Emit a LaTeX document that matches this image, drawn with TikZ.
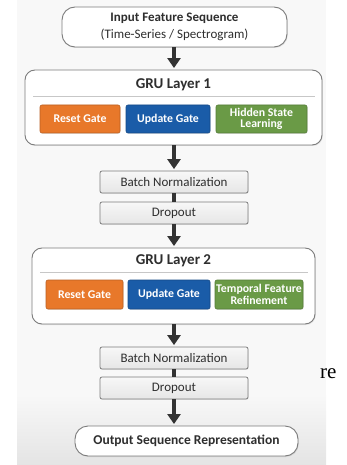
\documentclass[tikz,border=0pt]{standalone}
\usepackage{fontspec}
\setmainfont{Carlito}
\newfontfamily\refont{Liberation Serif}
\usetikzlibrary{arrows.meta,shadows}
\definecolor{panel}{HTML}{F8F8F8}
\definecolor{panelb}{HTML}{E4E4E4}
\definecolor{edge}{HTML}{7C7C7C}
\definecolor{ink}{HTML}{2E2E2E}
\definecolor{arrowc}{HTML}{333333}
\definecolor{gorange}{HTML}{E8782A}
\definecolor{gblue}{HTML}{1A5CA8}
\definecolor{ggreen}{HTML}{6A9A46}
\definecolor{stepfill}{HTML}{E6E6E6}
\begin{document}
\begin{tikzpicture}[x=1pt,y=-1pt,
  bigbox/.style={draw=edge, line width=0.9pt, fill=white, rounded corners=13pt, align=center, text=ink, inner sep=0pt,
     drop shadow={opacity=0.18, shadow xshift=0.8pt, shadow yshift=-1pt}},
  layerbox/.style={draw=edge, line width=0.9pt, fill=white, rounded corners=10pt, inner sep=0pt,
     drop shadow={opacity=0.18, shadow xshift=0.8pt, shadow yshift=-1pt}},
  title/.style={font=\fontsize{15}{16}\selectfont\bfseries, text=ink},
  gate/.style={rounded corners=2pt, text=white, align=center, inner sep=0pt, minimum height=28pt,
     font=\fontsize{11.8}{11.5}\selectfont\bfseries, line width=0.6pt,
     drop shadow={opacity=0.2, shadow xshift=0.6pt, shadow yshift=-0.8pt}},
  stepbox/.style={draw=edge, line width=0.8pt, top color=white!97!black, bottom color=stepfill, rounded corners=2pt,
     minimum width=148pt, minimum height=22pt, inner sep=0pt, text=ink, font=\fontsize{13}{13}\selectfont,
     drop shadow={opacity=0.15, shadow xshift=0.6pt, shadow yshift=-0.8pt}},
  arr/.style={draw=arrowc, line width=3.5pt, -{Triangle[width=13pt,length=10pt]}, shorten >=1.5pt},
  link/.style={draw=arrowc, line width=3.5pt},
  sep/.style={draw=black!22, line width=0.8pt}
]
\useasboundingbox (0,0) rectangle (346,465);
\fill[panel] (17,0) rectangle (326,465);
\shade[top color=panel, bottom color=panelb] (17,395) rectangle (326,465);

% input
\node[bigbox, minimum width=225pt, minimum height=40pt, font=\fontsize{13}{17}\selectfont] (in) at (174.5,27)
  {\textbf{Input Feature Sequence}\\(Time-Series / Spectrogram)};

% layer 1
\node[layerbox, minimum width=297pt, minimum height=75pt] (l1) at (173.5,107.5) {};
\node[title] (t1) at (173.5,85) {GRU Layer 1};
\coordinate (s1a) at (33,96);
\coordinate (s1b) at (315,96);
\draw[sep] (s1a) -- (s1b);
\node[gate, fill=gorange, draw=gorange!80!black, minimum width=80pt] (r1) at (80,119) {Reset Gate};
\node[gate, fill=gblue, draw=gblue!80!black, minimum width=84pt] (u1) at (168,119) {Update Gate};
\node[gate, fill=ggreen, draw=ggreen!80!black, minimum width=91pt] (h1) at (261.5,119) {Hidden State\\Learning};

% bn / dropout 1
\node[stepbox] (bn1) at (174,182) {Batch Normalization};
\node[stepbox] (do1) at (174,213) {Dropout};

% layer 2
\node[layerbox, minimum width=283pt, minimum height=76pt] (l2) at (173.5,286) {};
\node[title] (t2) at (173.5,261) {GRU Layer 2};
\coordinate (s2a) at (40,272);
\coordinate (s2b) at (308,272);
\draw[sep] (s2a) -- (s2b);
\node[gate, fill=gorange, draw=gorange!80!black, minimum width=77pt, minimum height=29pt] (r2) at (84.5,294.5) {Reset Gate};
\node[gate, fill=gblue, draw=gblue!80!black, minimum width=82pt, minimum height=29pt] (u2) at (169,294.5) {Update Gate};
\node[gate, fill=ggreen, draw=ggreen!80!black, minimum width=88pt, minimum height=29pt] (h2) at (259,294.5) {Temporal Feature\\Refinement};

% bn / dropout 2
\node[stepbox] (bn2) at (174,358) {Batch Normalization};
\node[stepbox] (do2) at (174,388) {Dropout};

% output
\node[bigbox, minimum width=223pt, minimum height=30pt, font=\fontsize{13.5}{14}\selectfont\bfseries] (out) at (186.5,441) {Output Sequence Representation};

% stray text
\node[anchor=base west, inner sep=0pt, font=\refont\fontsize{21}{21}\selectfont] (re) at (320,378) {re};

% connectors
\draw[arr] (in.south -| 174,0) -- (l1.north -| 174,0);
\draw[arr] (l1.south -| 174,0) -- (bn1.north);
\draw[link] (bn1.south) -- (do1.north);
\draw[arr] (do1.south) -- (l2.north -| 174,0);
\draw[arr] (l2.south -| 174,0) -- (bn2.north);
\draw[link] (bn2.south) -- (do2.north);
\draw[arr] (do2.south) -- (out.north -| 174,0);
\end{tikzpicture}
\end{document}
